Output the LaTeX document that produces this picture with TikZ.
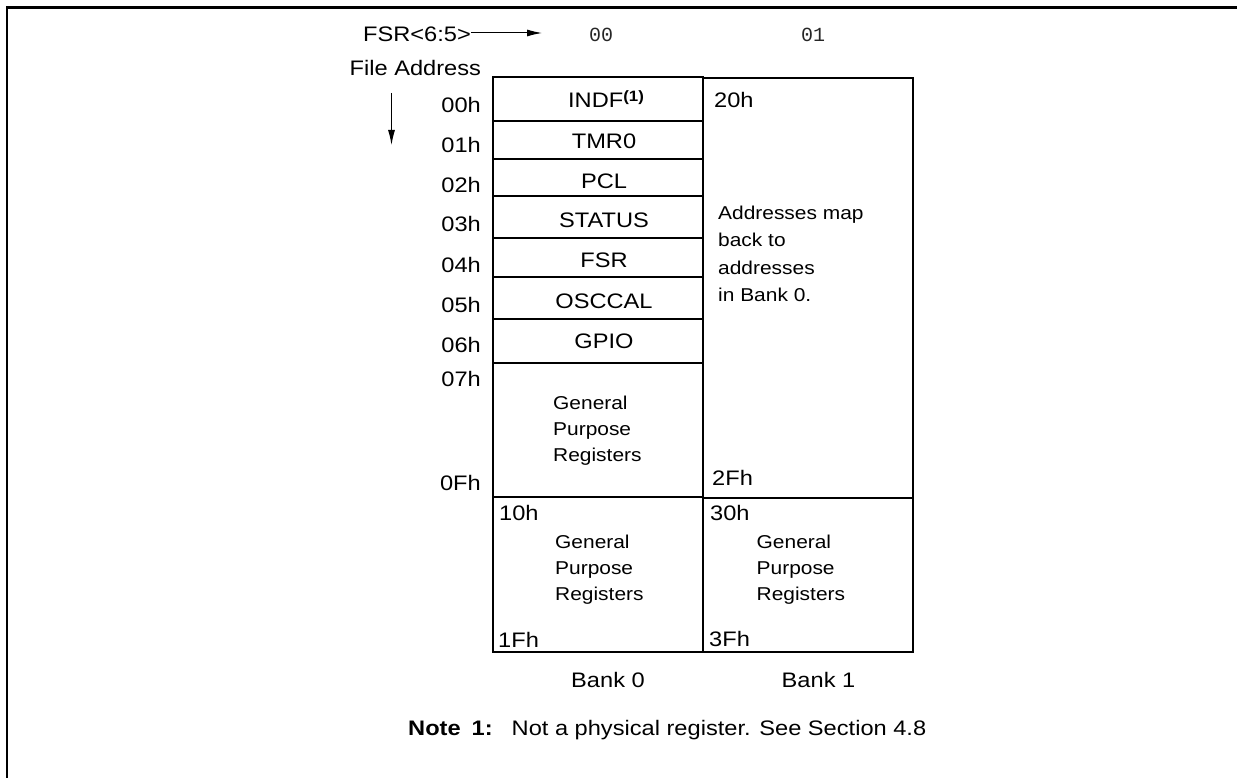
\documentclass[tikz,border=0pt]{standalone}
\usepackage{fontspec}
\setmainfont{Liberation Sans}[FakeStretch=1.125]
\newfontfamily\monof{Liberation Mono}
\usetikzlibrary{arrows.meta}
\begin{document}
\begin{tikzpicture}[x=1pt,y=-1pt,
  box/.style={line width=2pt},
  frame/.style={line width=2.3pt},
  lab/.style={inner sep=0pt, font=\fontsize{21}{25}\selectfont},
  sm/.style={inner sep=0pt, font=\fontsize{18.6}{22}\selectfont, anchor=base west},
  mono/.style={inner sep=0pt, font=\monof\fontsize{20}{24}\selectfont, text=black!85, anchor=base},
  arr/.style={line width=1pt, -{Latex[length=15pt,width=7pt]}}]
\useasboundingbox (0,0) rectangle (1237,778);
% outer frame
\draw[frame] (7,778) -- (7,7.5) -- (1237,7.5);
% bank outlines
\draw[box] (493,77) rectangle (703,652);
\draw[box] (703,78) rectangle (913,652);
\foreach \yy in {121,159,196,238,277,319,363,497}
  \draw[box] (493,\yy) -- (703,\yy);
\draw[box] (703,497.5) -- (913,497.5);
% header
\node[lab, anchor=base east] (fsr) at (471,42) {FSR<6:5>};
\coordinate (fsrtip) at (542,33);
\draw[arr] (fsr.east |- fsrtip) -- (fsrtip);
\node[mono] (sel0) at (601,42) {00};
\node[mono] (sel1) at (813,42) {01};
\node[lab, anchor=base west] (fileaddr) at (349.5,76) {File Address};
\coordinate (dtop) at (391.5,93);
\coordinate (dbot) at (391.5,145);
\draw[arr] (dtop) -- (dbot);
% address labels
\foreach \t/\yy [count=\i] in {00h/113,01h/153,02h/193,03h/232,04h/272.5,05h/312,06h/352,07h/386,0Fh/490}
  \node[lab, anchor=base east] (addr\i) at (481,\yy) {\t};
% register names
\node[lab, anchor=base] (indf) at (606,108) {INDF\raisebox{6pt}{\fontsize{15}{15}\selectfont\bfseries(1)}};
\foreach \t/\yy [count=\i] in {TMR0/148.5,PCL/188.5,STATUS/227.5,FSR/268,OSCCAL/308,GPIO/348}
  \node[lab, anchor=base] (reg\i) at (604,\yy) {\t};
% general purpose registers, bank 0 upper
\foreach \t [count=\i] in {General,Purpose,Registers}
  \node[sm] (gpa\i) at (553,383.5+26*\i) {\t};
% bank 1 upper
\node[lab, anchor=base west] (b1top) at (714,108) {20h};
\foreach \t [count=\i] in {Addresses map,back to,addresses,in Bank 0.}
  \node[sm] (map\i) at (718,193+27*\i) {\t};
\node[lab, anchor=base west] (b1end) at (712,485.5) {2Fh};
% lower part
\node[lab, anchor=base west] (l0top) at (499,520) {10h};
\node[lab, anchor=base west] (l1top) at (710,520) {30h};
\foreach \t [count=\i] in {General,Purpose,Registers}{
  \node[sm] (gpb\i) at (555,522.5+26*\i) {\t};
  \node[sm] (gpc\i) at (756.5,522.5+26*\i) {\t};
}
\node[lab, anchor=base west] (l0end) at (498,647.5) {1Fh};
\node[lab, anchor=base west] (l1end) at (709,646.5) {3Fh};
% bank names
\node[lab, anchor=base] (bank0) at (608,687.5) {Bank 0};
\node[lab, anchor=base] (bank1) at (818.5,687.5) {Bank 1};
% note
\node[lab, anchor=base west] (note) at (408,735.5) {\textbf{Note}\hspace{11pt}\textbf{1:}\hspace{19pt}Not a physical register. See Section 4.8};
\end{tikzpicture}
\end{document}
